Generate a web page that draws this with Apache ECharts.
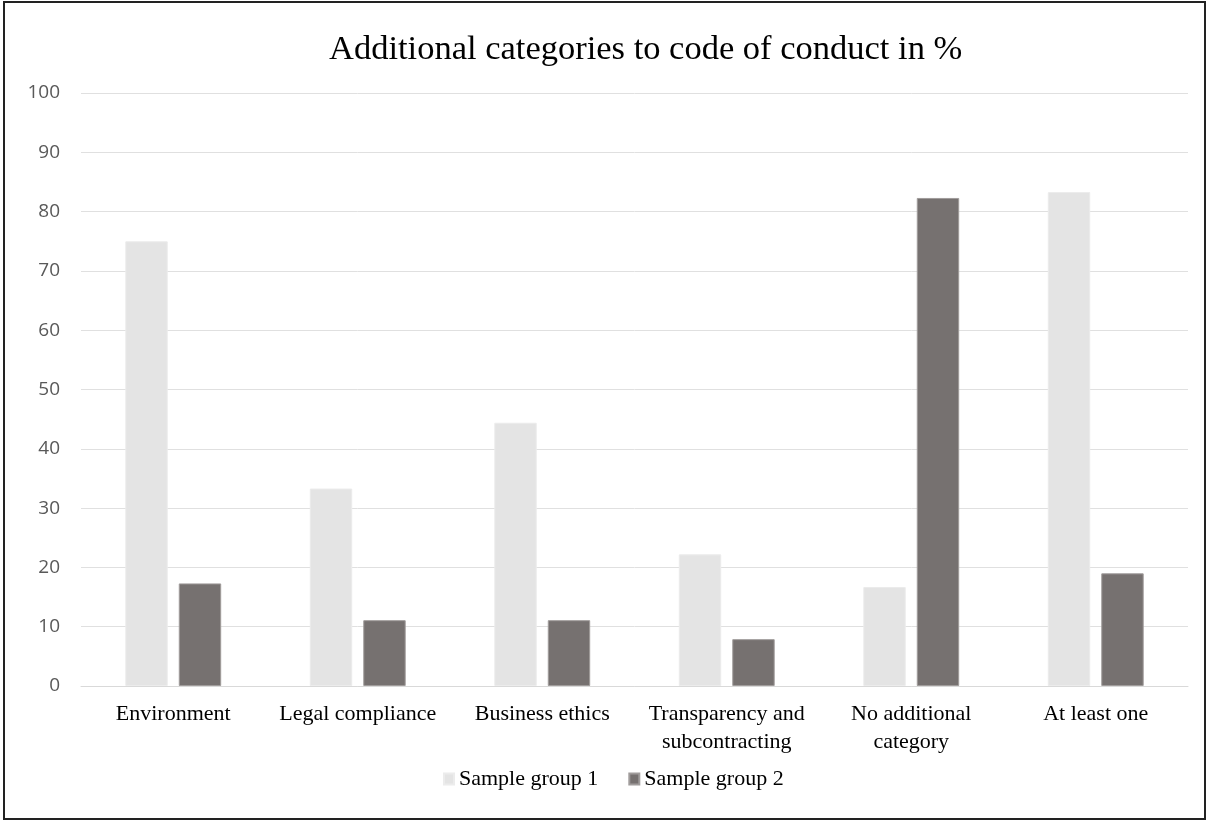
<!DOCTYPE html>
<html>
<head>
<meta charset="utf-8">
<script src="https://cdn.jsdelivr.net/npm/echarts@6/dist/echarts.min.js"></script>
<style>
  html, body { margin: 0; padding: 0; background: #fff; }
  #frame { position: absolute; left: 3px; top: 1px; width: 1199px; height: 815px; border: 2px solid #222; box-sizing: content-box; }
  #chart { width: 1199px; height: 815px; }
</style>
</head>
<body>
<div id="frame"><div id="chart"></div></div>
<script>
const titleText = 'Additional categories to code of conduct in %';
const categories = ['Environment', 'Legal compliance', 'Business ethics', 'Transparency and\nsubcontracting', 'No additional\ncategory', 'At least one'];
const seriesNames = ['Sample group 1', 'Sample group 2'];
const group1 = [75.0, 33.3, 44.4, 22.2, 16.7, 83.3];
const group2 = [17.3, 11.1, 11.1, 7.9, 82.3, 19.0];
const yTicks = [0, 10, 20, 30, 40, 50, 60, 70, 80, 90, 100];

const chart = echarts.init(document.getElementById('chart'), null, { renderer: 'canvas' });
const serif = '"Liberation Serif", "Times New Roman", serif';
chart.setOption({
  animation: false,
  title: {
    text: titleText,
    left: 319,
    top: 24,
    textStyle: { fontFamily: serif, fontSize: 34.5, fontWeight: 'normal', color: '#000' }
  },
  legend: {
    data: seriesNames,
    bottom: 23,
    left: 433,
    icon: 'rect',
    itemWidth: 10,
    itemHeight: 11,
    itemGap: 30,
    textStyle: { fontFamily: serif, fontSize: 22, color: '#000' }
  },
  grid: { left: 76, right: 16, top: 90, bottom: 132, containLabel: false },
  xAxis: {
    type: 'category',
    data: categories,
    axisLine: { lineStyle: { color: '#d9d9d9', width: 1 } },
    axisTick: { show: false },
    axisLabel: { fontFamily: serif, fontSize: 22, color: '#000', margin: 14, lineHeight: 28, interval: 0 }
  },
  yAxis: {
    type: 'value',
    min: yTicks[0],
    max: yTicks[yTicks.length - 1],
    interval: 10,
    axisLine: { show: false },
    axisTick: { show: false },
    axisLabel: { fontFamily: '"Open Sans", "Noto Sans", sans-serif', fontSize: 19, color: '#595959', margin: 21 },
    splitLine: { lineStyle: { color: '#e0e0e0', width: 1 } }
  },
  series: [
    {
      name: seriesNames[0],
      type: 'bar',
      data: group1,
      barWidth: '23%',
      barGap: '26%',
      itemStyle: { color: '#e4e4e4', borderColor: '#ececec', borderWidth: 1 }
    },
    {
      name: seriesNames[1],
      type: 'bar',
      data: group2,
      barWidth: '23%',
      itemStyle: { color: '#767170', borderColor: '#a09c9b', borderWidth: 1 }
    }
  ]
});
</script>
</body>
</html>
